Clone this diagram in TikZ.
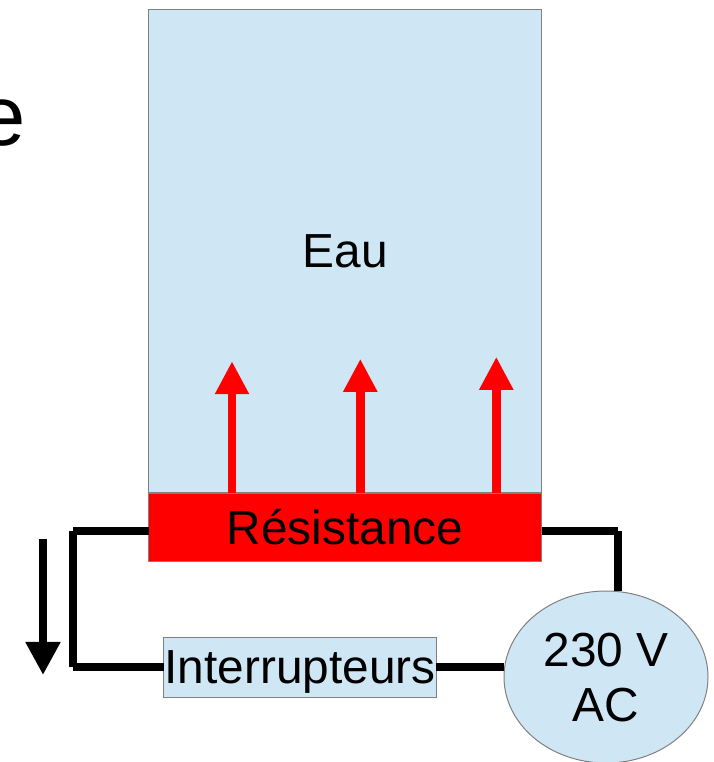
\documentclass[tikz,border=0pt]{standalone}
\usepackage{fontspec}
\setmainfont{Liberation Sans}
\usetikzlibrary{shapes.geometric, arrows.meta}
\definecolor{waterblue}{RGB}{207,231,245}
\definecolor{edgegray}{RGB}{128,128,128}
\tikzset{
  box/.style={draw=edgegray, line width=1pt, fill=waterblue, inner sep=0pt, outer sep=0pt, text depth=0pt},
  wire/.style={black, line width=8pt},
  heatarrow/.style={red, line width=8.5pt, -{Triangle[length=33pt,width=32pt]}},
  downarrow/.style={black, line width=8pt, -{Triangle[length=33pt,width=33pt]}}
}
\begin{document}
\begin{tikzpicture}[x=1pt, y=1pt, font=\fontsize{47.8}{55}\selectfont]
\useasboundingbox (0,0) rectangle (713,762);
\node [anchor=base east, inner sep=0pt, font=\fontsize{85}{100}\selectfont] (title) at (25.5,616.5) {e};
\node [box, minimum width=392.8pt, minimum height=483pt] (water) at (345.1,510.5) {Eau};
\node [box, fill=red, minimum width=392.8pt, minimum height=68pt] (resistance) at (345.1,234.7) {Résistance};
\node [box, minimum width=272.5pt, minimum height=60pt] (switches) at (300,94.7) {Interrupteurs};
\node [box, ellipse, align=center, text depth=-2pt, minimum width=204pt, minimum height=172pt] (ac) at (606,85) {230 V\\AC};
\coordinate (wireleft) at (73,231);
\coordinate (wireright) at (617.5,231);
\draw [wire] (resistance.west |- wireleft) -- (wireleft);
\draw [wire] (wireleft) -- (wireleft |- switches.west);
\draw [wire] (wireleft |- switches.west) -- (switches.west);
\draw [wire] (switches.east) -- (switches.east -| ac.west);
\draw [wire] (resistance.east |- wireright) -- (wireright);
\draw [wire] (wireright) -- (wireright |- ac.north);
\foreach \name/\px/\py in {heata/232/400.8, heatb/360.3/403.2, heatc/496.3/405.2} {
  \coordinate (\name) at (\px,\py);
  \draw [heatarrow] (resistance.north -| \name) -- (\name);
}
\coordinate (flowstart) at (43,223.3);
\coordinate (flowend) at (43,87);
\draw [downarrow] (flowstart) -- (flowend);
\end{tikzpicture}
\end{document}
